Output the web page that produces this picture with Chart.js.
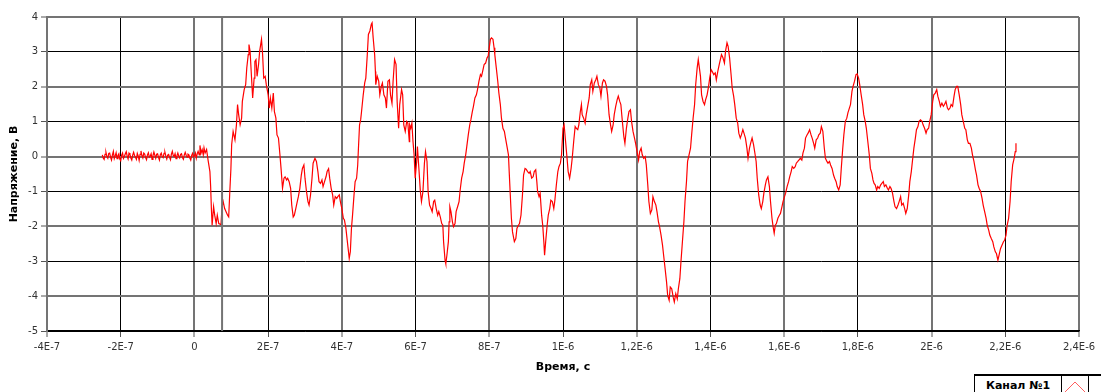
<!DOCTYPE html>
<html>
<head>
<meta charset="utf-8">
<script src="https://cdn.jsdelivr.net/npm/chart.js@4"></script>
<style>
  body { margin: 0; background: #fff; }
  #wrap { position: relative; width: 1101px; height: 392px; overflow: hidden; }
  #legend {
    position: absolute; left: 974px; top: 374px; height: 24px; width: 140px;
    border-top: 2px solid #000; border-left: 1px solid #000; background: #fff;
    font: bold 11px "DejaVu Sans", sans-serif; color: #000; display: flex; align-items: flex-start;
  }
  #legend span { display: inline-block; width: 86px; text-align: center; padding-top: 3px; }
  #legend .icon { width: 26px; height: 24px; border-left: 1px solid #000; border-right: 1px solid #000; }
</style>
</head>
<body>
<div id="wrap">
  <canvas id="myChart" width="1101" height="392"></canvas>
  <div id="legend"><span>Канал №1</span><div class="icon">
    <svg width="26" height="20"><polyline points="2,17 13,6 24,17" fill="none" stroke="#ff6060" stroke-width="1"/></svg>
  </div></div>
</div>
<script>
// x in microseconds, y in volts
const xTickLabels = ['-4E-7','-2E-7','0','2E-7','4E-7','6E-7','8E-7','1E-6',
  '1,2E-6','1,4E-6','1,6E-6','1,8E-6','2E-6','2,2E-6','2,4E-6'];
const cursorUs = 0.075;

const preTrigger = [
  [-0.250,0.05],[-0.2475,-0.04],[-0.245,-0.08],[-0.2425,0.06],[-0.240,0.12],[-0.2375,0.00],[-0.235,-0.05],[-0.2325,0.09],
  [-0.230,0.10],[-0.2275,-0.02],[-0.225,-0.10],[-0.2225,0.05],[-0.220,0.15],[-0.2175,-0.06],[-0.215,0.02],[-0.2125,0.11],
  [-0.210,-0.06],[-0.2075,0.03],[-0.205,0.08],[-0.2025,-0.07],[-0.200,-0.12],[-0.1975,0.04],[-0.195,0.10],[-0.1925,-0.05],
  [-0.190,0.00],[-0.1875,0.08],[-0.185,0.14],[-0.1825,0.01],[-0.180,-0.07],[-0.1775,0.10],[-0.175,0.06],[-0.1725,-0.04],
  [-0.170,-0.10],[-0.1675,0.04],[-0.165,0.12],[-0.1625,0.03],[-0.160,-0.02],[-0.1575,-0.08],[-0.155,0.09],[-0.1525,0.02],
  [-0.150,-0.11],[-0.1475,0.06],[-0.145,0.16],[-0.1425,0.02],[-0.140,-0.04],[-0.1375,0.10],[-0.135,0.07],[-0.1325,-0.03],
  [-0.130,-0.09],[-0.1275,0.05],[-0.125,0.11],[-0.1225,-0.02],[-0.120,0.01],[-0.1175,0.08],[-0.115,-0.08],[-0.1125,0.03],
  [-0.110,0.13],[-0.1075,0.04],[-0.105,-0.05],[-0.1025,0.07],[-0.100,0.08],[-0.0975,-0.02],[-0.095,-0.10],[-0.0925,0.05],
  [-0.090,0.10],[-0.0875,0.00],[-0.085,-0.03],[-0.0825,0.09],[-0.080,0.12],[-0.0775,0.01],[-0.075,-0.07],[-0.0725,0.04],
  [-0.070,0.06],[-0.0675,-0.02],[-0.065,-0.09],[-0.0625,0.07],[-0.060,0.15],[-0.0575,0.03],[-0.055,0.00],[-0.0525,0.08],
  [-0.050,-0.06],[-0.0475,0.02],[-0.045,0.10],[-0.0425,0.01],[-0.040,-0.04],[-0.0375,0.06],[-0.035,0.08],[-0.0325,-0.03],
  [-0.030,-0.08],[-0.0275,0.05],[-0.025,0.12],[-0.0225,0.04],[-0.020,-0.02],[-0.0175,0.07],[-0.015,0.05],[-0.0125,-0.04],
  [-0.010,-0.10],[-0.0075,0.03],[-0.005,0.09],[-0.0025,-0.01],[0.000,0.02],[0.0025,0.10],[0.005,-0.05],[0.0075,0.08]
];

const signal = [
  [0.010,0.15],[0.013,0.05],[0.015,0.32],[0.018,0.10],[0.021,0.20],[0.024,0.05],[0.026,0.25],[0.029,0.10],[0.033,0.20],
  [0.035,0.05],[0.037,-0.10],[0.042,-0.43],[0.044,-0.86],[0.046,-1.49],[0.048,-1.97],[0.052,-1.44],[0.055,-1.68],
  [0.059,-1.92],[0.062,-1.68],[0.066,-1.92],[0.072,-1.95],[0.075,-1.44],[0.078,-1.29],[0.082,-1.49],[0.090,-1.68],
  [0.093,-1.73],[0.096,-1.00],[0.099,-0.34],[0.101,0.34],[0.105,0.72],[0.110,0.48],[0.114,0.91],[0.117,1.49],
  [0.120,1.20],[0.124,0.91],[0.128,1.10],[0.130,1.58],[0.135,1.92],[0.139,2.06],[0.142,2.54],[0.146,2.92],
  [0.148,3.21],[0.151,3.02],[0.155,2.25],[0.158,1.68],[0.162,2.25],[0.164,2.73],[0.167,2.78],[0.170,2.30],
  [0.174,2.64],[0.177,3.02],[0.182,3.36],[0.185,2.92],[0.188,2.25],[0.192,2.30],[0.195,2.06],[0.200,1.77],
  [0.203,1.39],[0.206,1.68],[0.210,1.39],[0.214,1.82],[0.217,1.29],[0.221,1.10],[0.224,0.62],[0.228,0.53],
  [0.232,0.05],[0.235,-0.34],[0.239,-0.91],[0.243,-0.62],[0.246,-0.58],[0.250,-0.67],[0.253,-0.62],[0.257,-0.72],
  [0.261,-0.91],[0.264,-1.39],[0.268,-1.73],[0.271,-1.68],[0.275,-1.49],[0.279,-1.29],[0.282,-1.15],[0.286,-0.91],
  [0.290,-0.53],[0.293,-0.34],[0.297,-0.24],[0.300,-0.62],[0.304,-1.00],[0.308,-1.29],[0.311,-1.39],[0.315,-1.10],
  [0.319,-0.62],[0.322,-0.19],[0.327,-0.05],[0.331,-0.14],[0.335,-0.43],[0.338,-0.72],[0.342,-0.77],[0.346,-0.67],
  [0.349,-0.86],[0.353,-0.72],[0.357,-0.58],[0.360,-0.43],[0.364,-0.35],[0.367,-0.62],[0.371,-0.91],[0.375,-1.10],
  [0.378,-1.39],[0.382,-1.15],[0.386,-1.20],[0.389,-1.15],[0.393,-1.10],[0.396,-1.29],[0.400,-1.49],[0.404,-1.77],
  [0.407,-1.82],[0.411,-2.06],[0.414,-2.35],[0.418,-2.73],[0.420,-2.92],[0.423,-2.73],[0.426,-2.06],[0.429,-1.68],
  [0.433,-1.10],[0.436,-0.72],[0.440,-0.62],[0.443,-0.24],[0.445,0.24],[0.448,0.91],[0.451,1.05],[0.453,1.25],
  [0.458,1.77],[0.462,2.11],[0.465,2.25],[0.469,2.92],[0.472,3.50],[0.476,3.60],[0.480,3.79],[0.482,3.83],
  [0.485,3.40],[0.489,2.92],[0.491,2.44],[0.492,2.06],[0.496,2.30],[0.500,2.16],[0.503,1.77],[0.507,2.01],
  [0.510,2.11],[0.514,1.77],[0.518,1.68],[0.521,1.39],[0.525,2.16],[0.529,2.20],[0.532,1.77],[0.536,1.53],
  [0.539,2.16],[0.543,2.78],[0.547,2.64],[0.550,1.58],[0.554,0.81],[0.557,1.49],[0.562,1.92],[0.565,1.77],
  [0.568,0.91],[0.572,0.72],[0.576,1.01],[0.579,0.96],[0.583,0.43],[0.584,0.91],[0.587,0.81],[0.590,0.96],
  [0.593,0.43],[0.596,0.05],[0.599,-0.62],[0.603,-0.14],[0.605,0.29],[0.609,-0.34],[0.613,-1.00],[0.616,-1.29],
  [0.620,-1.00],[0.624,-0.19],[0.627,0.14],[0.631,-0.14],[0.634,-1.00],[0.638,-1.39],[0.642,-1.49],[0.645,-1.58],
  [0.649,-1.29],[0.652,-1.25],[0.656,-1.49],[0.660,-1.68],[0.663,-1.58],[0.667,-1.73],[0.671,-1.92],[0.674,-1.97],
  [0.676,-2.44],[0.680,-2.97],[0.682,-3.07],[0.685,-2.83],[0.689,-2.44],[0.691,-1.87],[0.693,-1.44],[0.696,-1.58],
  [0.700,-1.87],[0.703,-2.01],[0.707,-1.92],[0.710,-1.58],[0.714,-1.44],[0.718,-1.29],[0.721,-0.96],[0.725,-0.62],
  [0.729,-0.43],[0.732,-0.19],[0.736,0.05],[0.739,0.29],[0.743,0.62],[0.747,0.91],[0.750,1.05],[0.754,1.29],
  [0.757,1.44],[0.761,1.68],[0.765,1.77],[0.768,1.92],[0.772,2.16],[0.776,2.35],[0.779,2.30],[0.783,2.49],
  [0.786,2.64],[0.790,2.68],[0.794,2.83],[0.797,2.88],[0.800,3.12],[0.803,3.36],[0.806,3.40],[0.810,3.36],
  [0.813,3.12],[0.815,2.92],[0.819,2.54],[0.823,2.16],[0.826,1.82],[0.830,1.49],[0.833,1.10],[0.837,0.81],
  [0.841,0.72],[0.844,0.53],[0.848,0.29],[0.852,0.05],[0.854,-0.43],[0.857,-1.10],[0.860,-1.77],[0.863,-2.16],
  [0.868,-2.44],[0.872,-2.35],[0.875,-2.06],[0.879,-1.97],[0.882,-1.92],[0.886,-1.68],[0.890,-1.10],[0.893,-0.53],
  [0.897,-0.34],[0.900,-0.36],[0.904,-0.43],[0.908,-0.48],[0.911,-0.43],[0.915,-0.62],[0.919,-0.58],[0.922,-0.43],
  [0.926,-0.38],[0.929,-0.72],[0.931,-1.00],[0.935,-1.15],[0.938,-1.05],[0.942,-1.68],[0.945,-1.97],[0.948,-2.44],
  [0.950,-2.83],[0.953,-2.44],[0.957,-1.97],[0.960,-1.68],[0.964,-1.49],[0.967,-1.25],[0.971,-1.29],[0.975,-1.49],
  [0.978,-1.25],[0.982,-0.81],[0.986,-0.43],[0.989,-0.29],[0.993,-0.19],[0.996,0.05],[1.000,0.81],[1.003,0.91],
  [1.007,0.43],[1.011,-0.05],[1.014,-0.43],[1.018,-0.62],[1.022,-0.34],[1.025,-0.05],[1.029,0.43],[1.033,0.86],
  [1.036,0.81],[1.040,0.77],[1.043,0.91],[1.047,1.29],[1.050,1.49],[1.052,1.20],[1.056,1.10],[1.060,0.96],
  [1.063,1.20],[1.067,1.44],[1.071,1.68],[1.074,2.06],[1.078,2.20],[1.081,1.87],[1.085,2.11],[1.089,2.20],
  [1.092,2.30],[1.096,2.06],[1.100,1.97],[1.103,1.73],[1.107,2.11],[1.110,2.20],[1.114,2.16],[1.118,2.01],
  [1.121,1.77],[1.125,1.20],[1.129,0.91],[1.132,0.72],[1.136,0.91],[1.139,1.20],[1.143,1.44],[1.147,1.63],
  [1.150,1.73],[1.154,1.58],[1.157,1.49],[1.161,1.01],[1.165,0.58],[1.168,0.38],[1.172,0.81],[1.176,1.10],
  [1.179,1.29],[1.183,1.34],[1.186,1.01],[1.190,0.72],[1.194,0.53],[1.197,0.38],[1.201,0.14],[1.205,-0.10],
  [1.208,0.14],[1.212,0.24],[1.215,0.05],[1.219,-0.05],[1.223,0.00],[1.226,-0.24],[1.230,-0.81],[1.233,-1.29],
  [1.237,-1.63],[1.241,-1.53],[1.244,-1.15],[1.248,-1.29],[1.252,-1.39],[1.255,-1.58],[1.259,-1.87],[1.262,-2.01],
  [1.266,-2.25],[1.270,-2.54],[1.273,-2.83],[1.277,-3.21],[1.281,-3.60],[1.284,-3.98],[1.288,-4.12],[1.291,-3.74],
  [1.295,-3.79],[1.299,-4.03],[1.302,-4.17],[1.306,-3.93],[1.310,-4.08],[1.313,-3.79],[1.317,-3.50],[1.320,-3.02],
  [1.324,-2.44],[1.328,-1.87],[1.331,-1.29],[1.335,-0.72],[1.338,-0.14],[1.342,0.05],[1.346,0.24],[1.349,0.62],
  [1.353,1.10],[1.357,1.49],[1.360,2.06],[1.364,2.54],[1.367,2.78],[1.370,2.54],[1.373,2.30],[1.376,1.77],
  [1.380,1.58],[1.384,1.49],[1.387,1.63],[1.391,1.77],[1.395,2.01],[1.398,2.25],[1.402,2.49],[1.405,2.44],
  [1.409,2.35],[1.413,2.40],[1.416,2.20],[1.420,2.44],[1.424,2.64],[1.430,2.92],[1.434,2.83],[1.438,2.68],
  [1.441,3.02],[1.445,3.26],[1.448,3.16],[1.452,2.83],[1.456,2.35],[1.459,1.97],[1.463,1.73],[1.466,1.49],
  [1.470,1.10],[1.474,0.96],[1.477,0.67],[1.481,0.53],[1.484,0.62],[1.488,0.77],[1.491,0.67],[1.495,0.53],
  [1.499,0.24],[1.502,-0.05],[1.506,0.24],[1.509,0.38],[1.513,0.53],[1.517,0.34],[1.520,0.14],[1.524,-0.14],
  [1.527,-0.62],[1.531,-1.10],[1.535,-1.39],[1.538,-1.49],[1.542,-1.29],[1.545,-1.05],[1.549,-0.81],[1.552,-0.67],
  [1.556,-0.58],[1.560,-0.86],[1.563,-1.29],[1.567,-1.77],[1.570,-2.01],[1.573,-2.20],[1.576,-1.97],[1.579,-1.92],
  [1.583,-1.77],[1.587,-1.68],[1.590,-1.63],[1.594,-1.44],[1.597,-1.29],[1.601,-1.15],[1.604,-1.05],[1.608,-0.86],
  [1.612,-0.72],[1.615,-0.58],[1.619,-0.43],[1.622,-0.29],[1.626,-0.34],[1.630,-0.29],[1.633,-0.19],[1.637,-0.14],
  [1.640,-0.10],[1.644,-0.05],[1.648,-0.10],[1.651,0.10],[1.655,0.24],[1.658,0.53],[1.662,0.62],[1.665,0.67],
  [1.669,0.77],[1.673,0.62],[1.676,0.53],[1.680,0.38],[1.683,0.24],[1.687,0.48],[1.691,0.53],[1.694,0.62],
  [1.698,0.67],[1.701,0.86],[1.705,0.72],[1.709,0.24],[1.712,-0.05],[1.716,-0.14],[1.719,-0.19],[1.723,-0.14],
  [1.726,-0.24],[1.730,-0.34],[1.734,-0.53],[1.737,-0.62],[1.741,-0.72],[1.744,-0.86],[1.748,-0.96],[1.752,-0.81],
  [1.755,-0.34],[1.759,0.24],[1.762,0.62],[1.766,1.01],[1.770,1.10],[1.773,1.25],[1.777,1.39],[1.780,1.49],
  [1.784,1.87],[1.787,2.01],[1.791,2.16],[1.795,2.35],[1.798,2.37],[1.802,2.25],[1.805,2.06],[1.809,1.77],
  [1.813,1.49],[1.816,1.20],[1.820,1.01],[1.823,0.81],[1.827,0.43],[1.831,0.05],[1.834,-0.34],[1.838,-0.48],
  [1.841,-0.67],[1.844,-0.77],[1.847,-0.81],[1.851,-0.96],[1.854,-0.86],[1.858,-0.91],[1.862,-0.81],[1.865,-0.77],
  [1.869,-0.72],[1.872,-0.86],[1.876,-0.81],[1.880,-0.91],[1.883,-0.96],[1.887,-0.86],[1.890,-0.91],[1.894,-1.05],
  [1.898,-1.29],[1.901,-1.44],[1.905,-1.49],[1.909,-1.39],[1.912,-1.29],[1.916,-1.15],[1.919,-1.39],[1.923,-1.34],
  [1.927,-1.49],[1.930,-1.63],[1.934,-1.49],[1.938,-1.10],[1.941,-0.72],[1.945,-0.43],[1.948,-0.14],[1.952,0.24],
  [1.956,0.53],[1.959,0.77],[1.963,0.86],[1.966,1.01],[1.970,1.05],[1.974,1.01],[1.977,0.91],[1.981,0.81],
  [1.985,0.67],[1.988,0.77],[1.992,0.81],[1.995,1.01],[1.999,1.20],[2.003,1.58],[2.006,1.77],[2.010,1.82],
  [2.014,1.92],[2.017,1.73],[2.021,1.58],[2.024,1.44],[2.028,1.53],[2.032,1.44],[2.035,1.49],[2.039,1.58],
  [2.043,1.39],[2.046,1.34],[2.050,1.39],[2.053,1.49],[2.057,1.44],[2.061,1.73],[2.064,1.92],[2.068,2.01],
  [2.071,2.01],[2.075,1.77],[2.079,1.49],[2.082,1.20],[2.086,1.01],[2.090,0.81],[2.093,0.77],[2.097,0.48],
  [2.100,0.38],[2.104,0.38],[2.108,0.24],[2.111,0.05],[2.115,-0.14],[2.119,-0.38],[2.122,-0.53],[2.126,-0.81],
  [2.129,-0.91],[2.133,-1.00],[2.137,-1.20],[2.140,-1.39],[2.144,-1.58],[2.148,-1.77],[2.151,-1.97],[2.155,-2.11],
  [2.158,-2.25],[2.162,-2.35],[2.166,-2.44],[2.169,-2.59],[2.173,-2.73],[2.176,-2.78],[2.180,-2.97],[2.184,-2.78],
  [2.187,-2.64],[2.191,-2.54],[2.195,-2.44],[2.198,-2.40],[2.202,-2.25],[2.205,-1.97],[2.209,-1.77],[2.213,-1.29],
  [2.216,-0.72],[2.220,-0.24],[2.224,-0.05],[2.227,0.14],[2.229,0.38]
];

const tickFont = {family: 'DejaVu Sans', size: 10};
const titleFont = {family: 'DejaVu Sans', size: 11, weight: 'bold'};
const GRAY = '#747474';

const config = {
  type: 'line',
  data: {
    datasets: [
      {
        label: 'cursor',
        data: [{x: cursorUs, y: -5}, {x: cursorUs, y: 4}],
        borderColor: GRAY,
        borderWidth: 2,
        pointRadius: 0
      },
      {
        label: 'Канал №1',
        data: preTrigger.concat(signal).map(p => ({x: p[0], y: p[1]})),
        borderColor: '#ff0000',
        borderWidth: 1.2,
        pointRadius: 0,
        tension: 0
      }
    ]
  },
  options: {
    responsive: false,
    animation: false,
    devicePixelRatio: 1,
    layout: {padding: {left: 0, top: 17, right: 22, bottom: 0}},
    plugins: {legend: {display: false}, tooltip: {enabled: false}},
    scales: {
      x: {
        type: 'linear',
        min: -0.4,
        max: 2.4,
        afterFit: s => { s.height = 61; },
        ticks: {
          stepSize: 0.2,
          font: tickFont,
          color: '#333',
          padding: 4,
          maxRotation: 0,
          autoSkip: false,
          callback: (v, i) => xTickLabels[i]
        },
        grid: {
          color: c => (c.index % 2 === 0 ? GRAY : '#000'),
          lineWidth: c => (c.index % 2 === 0 ? 2 : 1),
          tickColor: '#555',
          tickWidth: 1,
          tickLength: 6
        },
        border: {color: '#000', width: 1.5},
        title: {display: true, text: 'Время, с', font: titleFont, color: '#000', padding: {top: 0, bottom: 18}}
      },
      y: {
        min: -5,
        max: 4,
        afterFit: s => { s.width = 47; },
        ticks: {
          stepSize: 1,
          font: tickFont,
          color: '#333',
          padding: 3,
          callback: v => String(v)
        },
        grid: {
          color: c => (c.tick && c.tick.value % 2 === 0 ? GRAY : '#000'),
          lineWidth: c => (c.tick && c.tick.value % 2 === 0 ? 2 : 1),
          tickColor: '#555',
          tickWidth: 1,
          tickLength: 6
        },
        border: {color: GRAY, width: 2},
        title: {display: true, text: 'Напряжение, В', font: titleFont, color: '#000', padding: {top: 8, bottom: 0}}
      }
    }
  }
};

const myChart = new Chart(document.getElementById('myChart'), config);
</script>
</body>
</html>
